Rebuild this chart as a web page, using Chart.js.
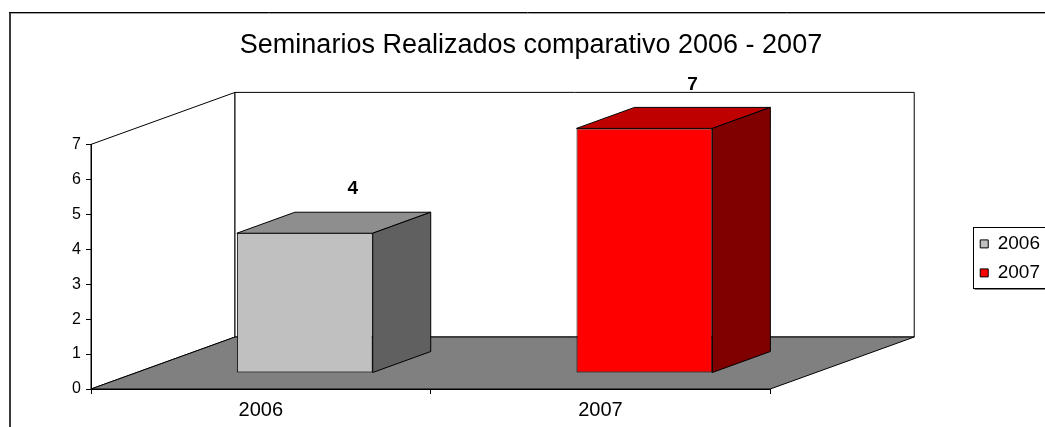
<!DOCTYPE html>
<html>
<head>
<meta charset="utf-8">
<script src="https://cdn.jsdelivr.net/npm/chart.js@4"></script>
<style>
  html, body { margin: 0; padding: 0; background: #fff; }
</style>
</head>
<body>
<canvas id="chart" width="1045" height="427"></canvas>
<script>
var categories = ['2006', '2007'];
var seminarios = [4, 7];
var yMax = 7;

var frontColors = ['#c0c0c0', '#ff0000'];
var topColors = ['#8e8e8e', '#bf0000'];
var sideColors = ['#606060', '#800000'];

// fake 3d: depth of the plot box, where the bars sit in it and how deep they are
var DEPTH_X = 144, DEPTH_Y = -52;
var BAR_X = 44, BAR_Y = -16;
var BAR_DX = 58, BAR_DY = -21;

function poly(ctx, pts, fill) {
    ctx.beginPath();
    ctx.moveTo(pts[0][0], pts[0][1]);
    for (var i = 1; i < pts.length; i++) ctx.lineTo(pts[i][0], pts[i][1]);
    ctx.closePath();
    if (fill) {
        ctx.fillStyle = fill;
        ctx.fill();
    }
    ctx.strokeStyle = '#000';
    ctx.lineWidth = 1;
    ctx.stroke();
}

var box3d = {
    id: 'box3d',
    beforeDraw: function (chart) {
        var ctx = chart.ctx,
            area = chart.chartArea,
            y = chart.scales.y,
            top = y.getPixelForValue(yMax),
            bot = y.getPixelForValue(0),
            l = area.left, r = area.right;

        ctx.save();
        // outer frame
        ctx.fillStyle = '#fff';
        ctx.fillRect(0, 0, chart.width, chart.height);
        ctx.strokeStyle = '#3a3a3a';
        ctx.lineWidth = 2;
        ctx.beginPath();
        ctx.moveTo(10, chart.height + 5);
        ctx.lineTo(10, 12.5);
        ctx.stroke();
        ctx.strokeStyle = '#000';
        ctx.lineWidth = 1;
        ctx.beginPath();
        ctx.moveTo(9, 12.5);
        ctx.lineTo(chart.width + 5, 12.5);
        ctx.stroke();
        ctx.strokeStyle = '#a0a0a0';
        ctx.beginPath();
        ctx.moveTo(11, 13.5);
        ctx.lineTo(chart.width + 5, 13.5);
        ctx.stroke();

        // left wall, back wall, floor
        poly(ctx, [[l, bot], [l, top], [l + DEPTH_X, top + DEPTH_Y], [l + DEPTH_X, bot + DEPTH_Y]], '#fff');
        poly(ctx, [[l + DEPTH_X, top + DEPTH_Y], [r + DEPTH_X, top + DEPTH_Y], [r + DEPTH_X, bot + DEPTH_Y], [l + DEPTH_X, bot + DEPTH_Y]], '#fff');
        poly(ctx, [[l, bot], [r, bot], [r + DEPTH_X, bot + DEPTH_Y], [l + DEPTH_X, bot + DEPTH_Y]], '#808080');
        ctx.restore();
    },
    beforeDatasetsDraw: function (chart) {
        chart.ctx.save();
        chart.ctx.translate(BAR_X, BAR_Y);
    },
    afterDatasetsDraw: function (chart) {
        var ctx = chart.ctx,
            meta = chart.getDatasetMeta(0);

        meta.data.forEach(function (bar, i) {
            var p = bar.getProps(['x', 'y', 'base', 'width'], true),
                x0 = p.x - p.width / 2,
                x1 = p.x + p.width / 2;
            poly(ctx, [[x0, p.y], [x0 + BAR_DX, p.y + BAR_DY], [x1 + BAR_DX, p.y + BAR_DY], [x1, p.y]], topColors[i]);
            poly(ctx, [[x1, p.y], [x1 + BAR_DX, p.y + BAR_DY], [x1 + BAR_DX, p.base + BAR_DY], [x1, p.base]], sideColors[i]);
        });
        ctx.restore();

        // value labels
        ctx.save();
        ctx.fillStyle = '#000';
        ctx.font = 'bold 19px "Liberation Sans"';
        ctx.textAlign = 'center';
        ctx.textBaseline = 'middle';
        meta.data.forEach(function (bar, i) {
            var p = bar.getProps(['x', 'y'], true);
            ctx.fillText(String(seminarios[i]), p.x + 92, p.y - 60);
        });
        ctx.restore();
    },
    afterDraw: function (chart) {
        var ctx = chart.ctx,
            hb = chart.legend.legendHitBoxes;
        if (!hb || !hb.length) return;
        var last = hb[hb.length - 1],
            l = Math.round(hb[0].left - 7) + 0.5,
            t = Math.round(hb[0].top - 7) + 0.5,
            b = Math.round(last.top + last.height + 6) + 0.5;
        ctx.save();
        ctx.strokeStyle = '#000';
        ctx.lineWidth = 1;
        ctx.strokeRect(l, t, chart.width - l + 10, b - t);
        ctx.strokeStyle = '#808080';
        ctx.beginPath();
        ctx.moveTo(l + 1, b + 1);
        ctx.lineTo(chart.width + 5, b + 1);
        ctx.stroke();
        ctx.restore();
    }
};

Chart.defaults.font.family = '"Liberation Sans", Arial, sans-serif';
Chart.defaults.color = '#000';

var chart = new Chart(document.getElementById('chart'), {
    type: 'bar',
    data: {
        labels: categories,
        datasets: [
            {
                label: 'Seminarios',
                data: seminarios,
                backgroundColor: frontColors,
                borderColor: '#000',
                borderWidth: 1,
                borderSkipped: false,
                barPercentage: 0.4,
                categoryPercentage: 1,
                clip: false
            }
        ]
    },
    options: {
        responsive: false,
        animation: false,
        layout: {
            padding: { left: 12, right: -5, top: 0, bottom: 1 }
        },
        scales: {
            x: {
                grid: { drawOnChartArea: false, color: '#000', tickLength: 5, offset: true },
                border: { color: '#000' },
                ticks: { font: { size: 20 }, padding: 4 }
            },
            y: {
                min: 0,
                max: yMax,
                ticks: { stepSize: 1, font: { size: 16 }, padding: 5 },
                grid: { drawOnChartArea: false, color: '#000', tickLength: 5 },
                border: { color: '#000' },
                afterFit: function (scale) { scale.width = 79; }
            },
            depth: {
                type: 'linear',
                position: 'right',
                grid: { display: false },
                ticks: { display: false },
                border: { display: false },
                afterFit: function (scale) { scale.width = 200; }
            }
        },
        plugins: {
            title: {
                display: true,
                text: 'Seminarios Realizados comparativo 2006 - 2007',
                font: { size: 27, weight: 'normal' },
                padding: { top: 29, bottom: 83 }
            },
            legend: {
                position: 'right',
                align: 'start',
                fullSize: false,
                title: { display: true, text: '', font: { size: 10, lineHeight: 1 }, padding: { top: 70, bottom: 0 } },
                labels: {
                    font: { size: 19 },
                    boxWidth: 8,
                    boxHeight: 8,
                    padding: 10,
                    generateLabels: function (chart) {
                        return chart.data.labels.map(function (label, i) {
                            return {
                                text: label,
                                fillStyle: frontColors[i],
                                strokeStyle: '#000',
                                lineWidth: 1,
                                fontColor: '#000',
                                hidden: false,
                                index: i
                            };
                        });
                    }
                }
            },
            tooltip: { enabled: false }
        }
    },
    plugins: [box3d]
});
</script>
</body>
</html>
